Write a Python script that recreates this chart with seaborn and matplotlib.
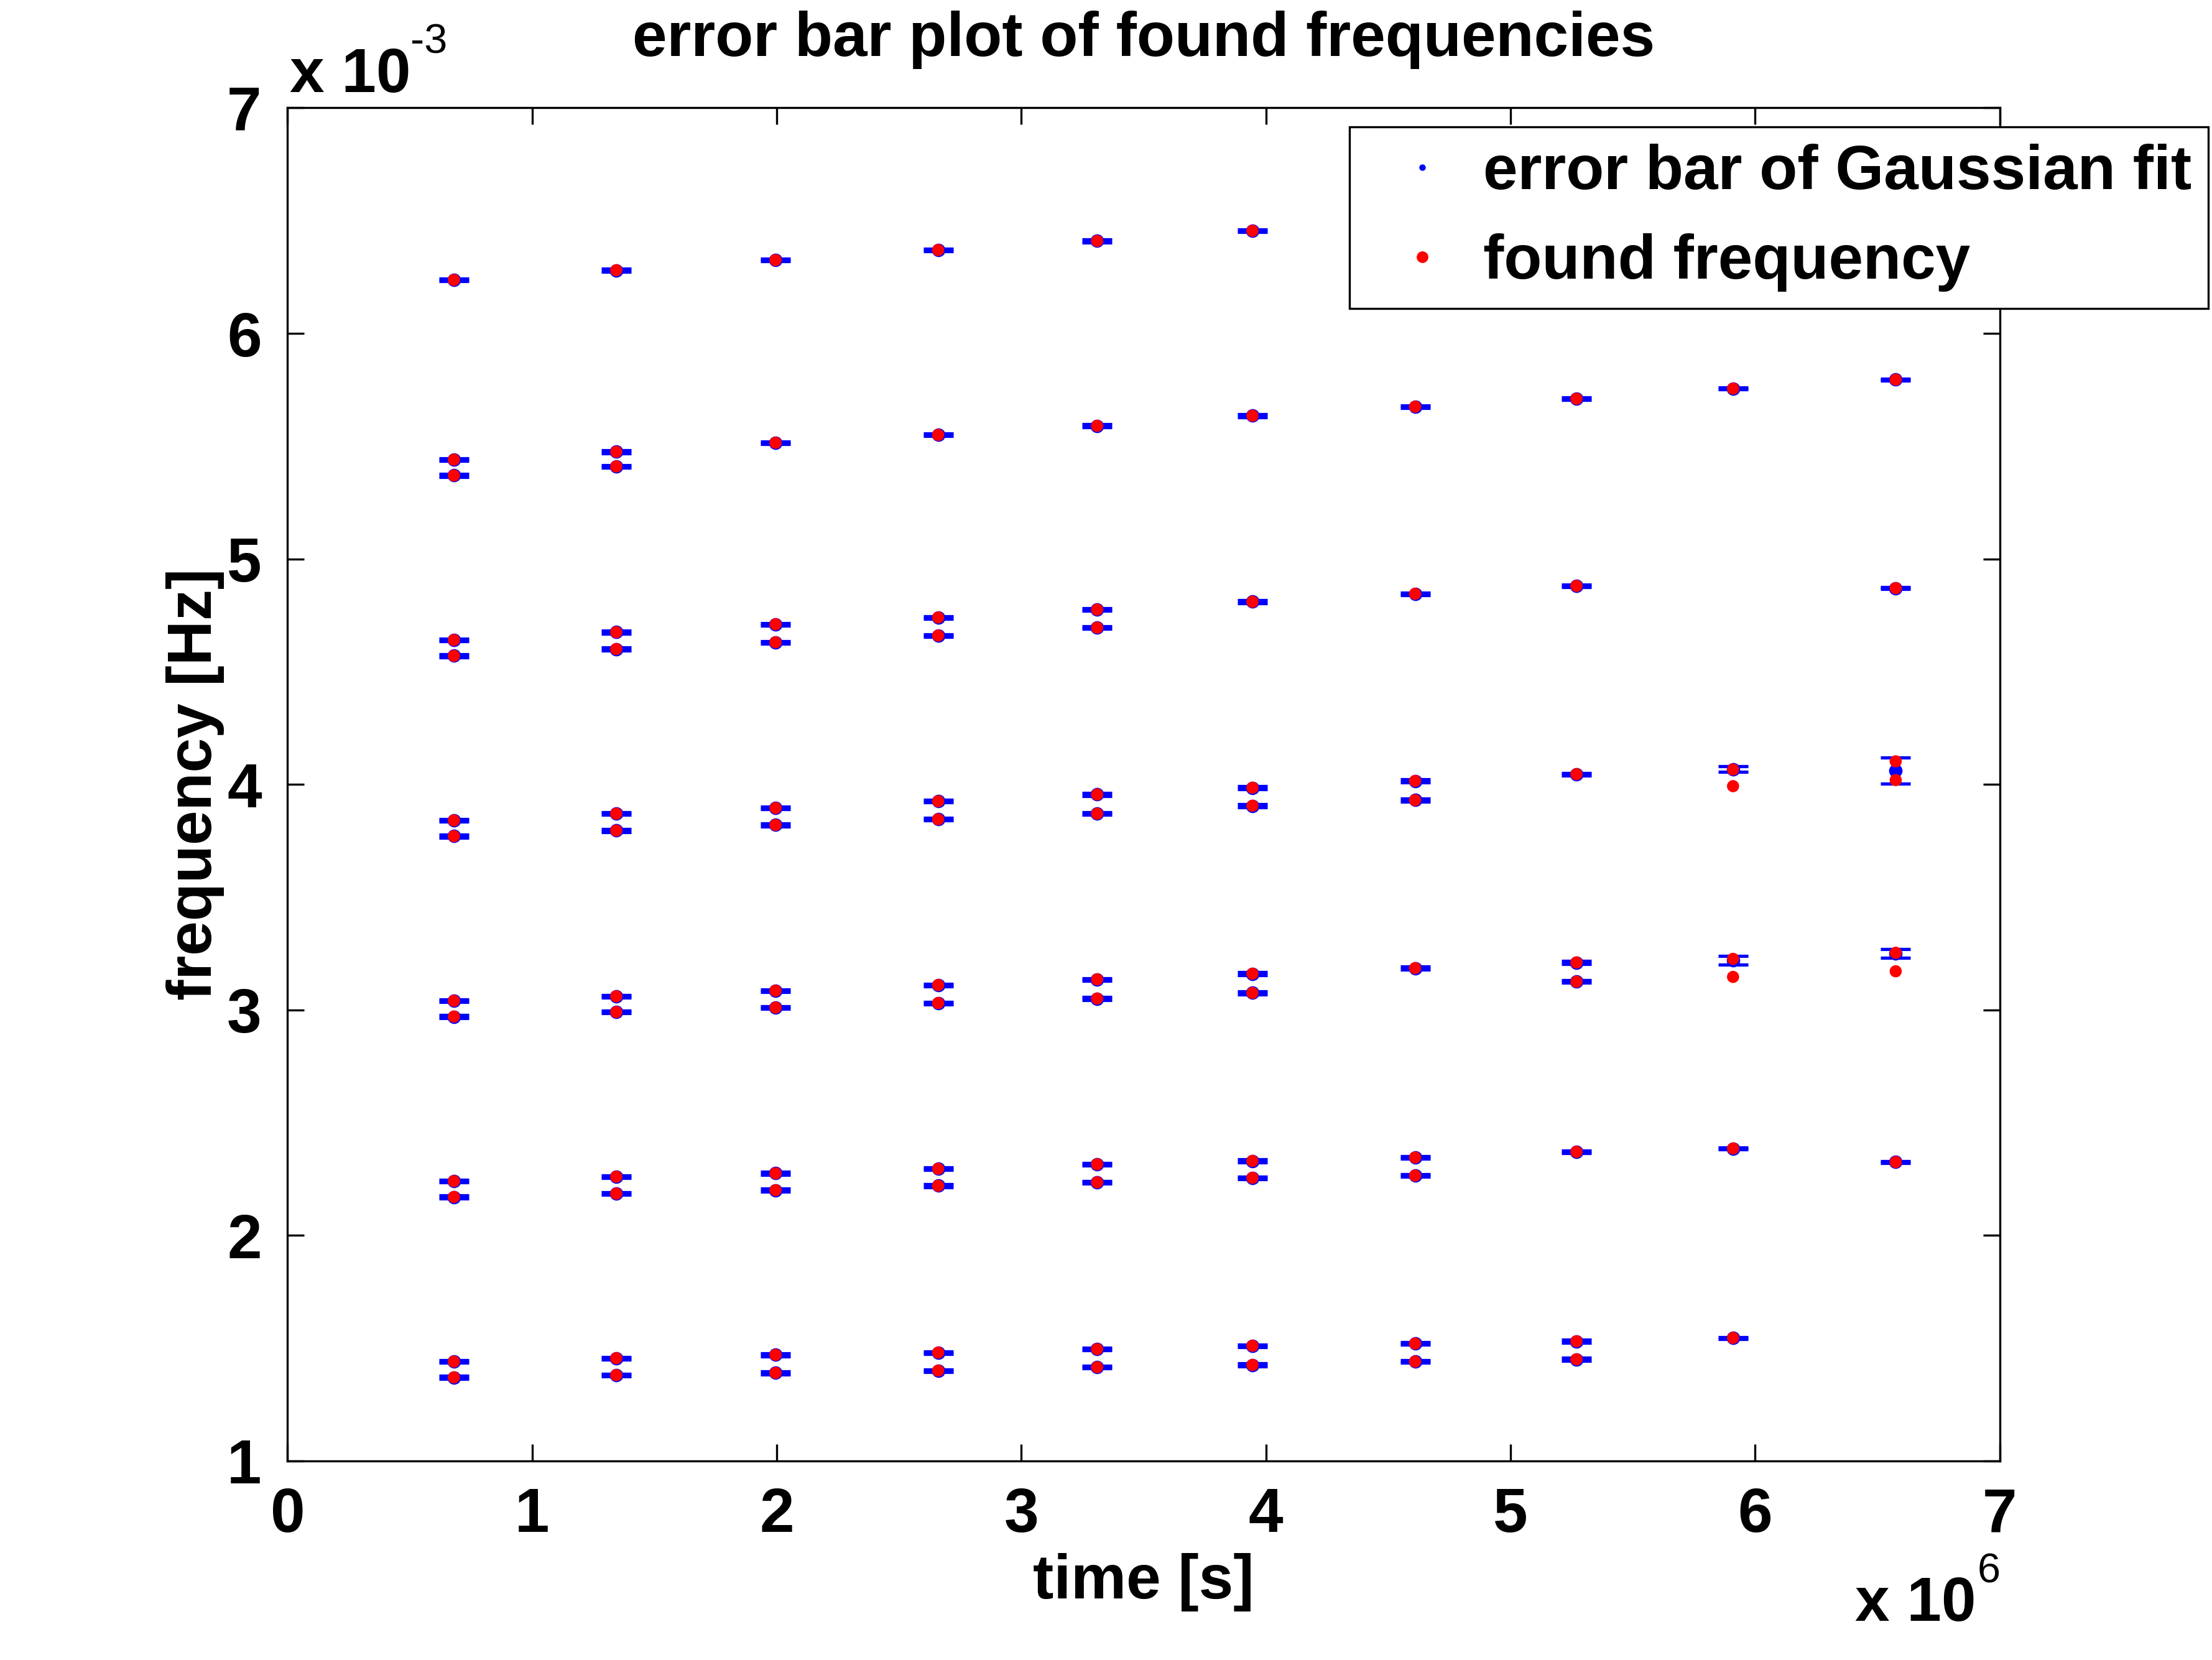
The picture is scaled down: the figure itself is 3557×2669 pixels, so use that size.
import numpy as np
import pandas as pd
import matplotlib
matplotlib.use("Agg")
import matplotlib.pyplot as plt
from matplotlib.lines import Line2D
from matplotlib.ticker import FuncFormatter, FixedLocator
import seaborn as sns

# ---------------- data (time in 1e6 s, frequency in 1e-3 Hz) ----------------
times = [0.68, 1.344, 1.995, 2.66, 3.31, 3.945, 4.61, 5.27, 5.91, 6.575]

found_freq_cols = [
    [6.237, 5.44, 5.37, 4.64, 4.57, 3.84, 3.77, 3.04, 2.97, 2.24, 2.17, 1.44, 1.37],
    [6.28, 5.475, 5.41, 4.675, 4.60, 3.87, 3.795, 3.06, 2.99, 2.26, 2.185, 1.455, 1.38],
    [6.325, 5.515, 4.71, 4.63, 3.895, 3.82, 3.085, 3.01, 2.275, 2.20, 1.47, 1.39],
    [6.37, 5.55, 4.74, 4.66, 3.925, 3.845, 3.11, 3.03, 2.295, 2.22, 1.48, 1.40],
    [6.41, 5.59, 4.775, 4.695, 3.955, 3.87, 3.135, 3.05, 2.315, 2.235, 1.495, 1.415],
    [6.455, 5.635, 4.81, 3.985, 3.905, 3.16, 3.075, 2.33, 2.255, 1.51, 1.425],
    [5.675, 4.845, 4.015, 3.93, 3.185, 2.345, 2.265, 1.52, 1.44],
    [5.71, 4.88, 4.045, 3.21, 3.125, 2.37, 1.53, 1.45],
    [5.755, 4.066, 3.992, 3.226, 3.146, 2.385, 1.545],
    [5.795, 4.87, 4.102, 4.019, 3.253, 3.171, 2.325],
]

fit_freq_cols = [
    [6.237, 5.44, 5.37, 4.64, 4.57, 3.84, 3.77, 3.04, 2.97, 2.24, 2.17, 1.44, 1.37],
    [6.28, 5.475, 5.41, 4.675, 4.60, 3.87, 3.795, 3.06, 2.99, 2.26, 2.185, 1.455, 1.38],
    [6.325, 5.515, 4.71, 4.63, 3.895, 3.82, 3.085, 3.01, 2.275, 2.20, 1.47, 1.39],
    [6.37, 5.55, 4.74, 4.66, 3.925, 3.845, 3.11, 3.03, 2.295, 2.22, 1.48, 1.40],
    [6.41, 5.59, 4.775, 4.695, 3.955, 3.87, 3.135, 3.05, 2.315, 2.235, 1.495, 1.415],
    [6.455, 5.635, 4.81, 3.985, 3.905, 3.16, 3.075, 2.33, 2.255, 1.51, 1.425],
    [5.675, 4.845, 4.015, 3.93, 3.185, 2.345, 2.265, 1.52, 1.44],
    [5.71, 4.88, 4.045, 3.21, 3.125, 2.37, 1.53, 1.45],
    [5.755, 4.067, 3.22, 2.385, 1.545],
    [5.795, 4.87, 4.06, 3.25, 2.325],
]

fit_err_cols = [
    [0.006] * 13,
    [0.006] * 13,
    [0.006] * 12,
    [0.006] * 12,
    [0.006] * 12,
    [0.006] * 11,
    [0.006] * 9,
    [0.006] * 8,
    [0.004, 0.012, 0.02, 0.004, 0.004],
    [0.004, 0.004, 0.058, 0.02, 0.004],
]

x_ticks = [0, 1, 2, 3, 4, 5, 6, 7]
y_ticks = [1, 2, 3, 4, 5, 6, 7]

# ---------------- tables ----------------
found_df = pd.DataFrame(
    [(t * 1e6, f * 1e-3) for t, col in zip(times, found_freq_cols) for f in col],
    columns=["time", "freq"],
)
fit_df = pd.DataFrame(
    [(t * 1e6, f * 1e-3, e * 1e-3)
     for t, fc, ec in zip(times, fit_freq_cols, fit_err_cols) for f, e in zip(fc, ec)],
    columns=["time", "freq", "err"],
)

# ---------------- style ----------------
sns.set_theme(style="white")
plt.rcParams["font.family"] = ["Liberation Sans", "DejaVu Sans"]
plt.rcParams["font.weight"] = "bold"
plt.rcParams["axes.labelweight"] = "bold"
plt.rcParams["axes.titleweight"] = "bold"
plt.rcParams["text.color"] = "black"
plt.rcParams["axes.labelcolor"] = "black"
plt.rcParams["xtick.color"] = "black"
plt.rcParams["ytick.color"] = "black"
plt.rcParams["legend.labelcolor"] = "black"

FS = 24
fig = plt.figure(figsize=(3557 / 300, 2669 / 300), dpi=300)
ax = fig.add_axes([0.130, 0.120, 0.774, 0.815])

# error bars (blue)
ax.errorbar(fit_df["time"], fit_df["freq"], yerr=fit_df["err"], fmt="o",
            color="blue", ms=4.2, elinewidth=1.2, capsize=5.8, capthick=1.25,
            zorder=2)
# found frequencies (red)
sns.scatterplot(data=found_df, x="time", y="freq", ax=ax, color="red",
                s=22, edgecolor="none", linewidth=0, zorder=3, legend=False)

ax.set_xlim(0, 7e6)
ax.set_ylim(1e-3, 7e-3)
ax.xaxis.set_major_locator(FixedLocator([v * 1e6 for v in x_ticks]))
ax.yaxis.set_major_locator(FixedLocator([v * 1e-3 for v in y_ticks]))
ax.xaxis.set_major_formatter(FuncFormatter(lambda v, p: f"{v / 1e6:.0f}"))
ax.yaxis.set_major_formatter(FuncFormatter(lambda v, p: f"{v / 1e-3:.0f}"))

for s in ax.spines.values():
    s.set_visible(True)
    s.set_color("black")
    s.set_linewidth(0.8)
ax.tick_params(direction="in", length=6.5, width=0.8, colors="black",
               labelcolor="black",
               top=True, right=True, bottom=True, left=True,
               labelsize=FS, pad=10)
for lab in ax.get_xticklabels() + ax.get_yticklabels():
    lab.set_fontweight("bold")

ax.set_xlabel("time [s]", fontsize=FS, fontweight="bold", labelpad=3, color="black")
ax.set_ylabel("frequency [Hz]", fontsize=FS, fontweight="bold", labelpad=1, color="black")
fig.text(0.517, 0.976, "error bar plot of found frequencies",
         ha="center", va="center", fontsize=FS, fontweight="bold", color="black")

# exponent labels
fig.text(0.131, 0.9446, "x 10", fontsize=FS, fontweight="bold", ha="left",
         va="baseline", color="black")
fig.text(0.1855, 0.9678, "-3", fontsize=16, fontweight="normal", ha="left",
         va="baseline", color="black")
fig.text(0.8386, 0.0236, "x 10", fontsize=FS, fontweight="bold", ha="left",
         va="baseline", color="black")
fig.text(0.894, 0.0465, "6", fontsize=16, fontweight="normal", ha="left",
         va="baseline", color="black")

# legend
handles = [
    Line2D([], [], marker="o", color="blue", ms=2.5, mew=0, ls="none"),
    Line2D([], [], marker="o", color="red", ms=4.5, mew=0, ls="none"),
]
leg = ax.legend(handles, ["error bar of Gaussian fit", "found frequency"],
                loc="upper left", bbox_to_anchor=(0.610, 0.9235),
                bbox_transform=fig.transFigure, fontsize=FS, frameon=True,
                fancybox=False, framealpha=1, edgecolor="black",
                borderpad=0.27, handlelength=1.8, handletextpad=0.08,
                labelspacing=0.5, borderaxespad=0)
leg.get_frame().set_linewidth(0.8)
leg.set_zorder(10)
for t in leg.get_texts():
    t.set_fontweight("bold")
    t.set_color("black")

fig.savefig("out.png", dpi=300, facecolor="white")
